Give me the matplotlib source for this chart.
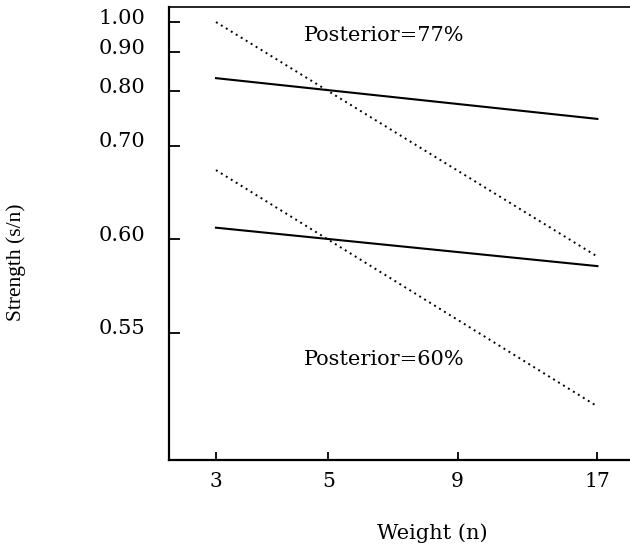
import numpy as np
import matplotlib
matplotlib.use("Agg")
from matplotlib import pyplot as plt
from matplotlib.transforms import ScaledTranslation

# weight (n) and strength (s/n) at the two ends of each line
weight = [3, 17]
bayes_77 = [1.00, 0.588]
bayes_60 = [0.667, 0.529]
judged_77 = [0.830, 0.744]
judged_60 = [0.609, 0.582]

x_ticks = [3, 5, 9, 17]
y_ticks = [1.00, 0.90, 0.80, 0.70, 0.60, 0.55]
y_tick_labels = ["1.00", "0.90", "0.80", "0.70", "0.60", "0.55"]


def forward(s):
    return np.log(np.clip(2 * np.asarray(s) - 1, 1e-9, None))


def inverse(f):
    return (np.exp(f) + 1) / 2


fig = plt.figure(figsize=(6.3, 5.46), dpi=100)
ax = fig.add_axes([169 / 630, 86 / 546, 526 / 630, 453 / 546])

ax.set_xscale("log")
ax.set_yscale("function", functions=(forward, inverse))

ax.plot(weight, bayes_77, color="black", linestyle=(0, (1, 2)), linewidth=1.4)
ax.plot(weight, bayes_60, color="black", linestyle=(0, (1, 2)), linewidth=1.4)
ax.plot(weight, judged_77, color="black", linewidth=1.5)
ax.plot(weight, judged_60, color="black", linewidth=1.5)

ax.set_xlim(2.423, 26.5)
ax.set_ylim(0.5195, 1.059)

ax.set_xticks(x_ticks)
ax.set_xticklabels([str(v) for v in x_ticks])
ax.xaxis.set_minor_locator(matplotlib.ticker.NullLocator())
ax.set_yticks(y_ticks)
ax.set_yticklabels(y_tick_labels)
ax.yaxis.set_minor_locator(matplotlib.ticker.NullLocator())

ax.tick_params(axis="x", direction="in", length=6, width=1.3, pad=8.5,
               labelsize=14.5, labelfontfamily="DejaVu Serif")
ax.tick_params(axis="y", direction="in", length=8, width=1.3, pad=17,
               labelsize=15, labelfontfamily="DejaVu Serif")

ax.spines["right"].set_visible(False)
for side in ["left", "bottom"]:
    ax.spines[side].set_linewidth(1.6)
ax.spines["top"].set_linewidth(1.2)

ax.text(6.44, 0.954, "Posterior=77%", ha="center", va="center",
        fontsize=15, family="DejaVu Serif")
ax.text(6.44, 0.541, "Posterior=60%", ha="center", va="center",
        fontsize=15, family="DejaVu Serif")

fig.text(432 / 630, 1 - 533 / 546, "Weight (n)", ha="center", va="center",
         fontsize=15, family="DejaVu Serif")
fig.text(16 / 630, 1 - 262 / 546, "Strength (s/n)", ha="center", va="center",
         rotation=90, fontsize=15.5, family="Liberation Serif")

# labels sit a little above their ticks in the original
shift = ScaledTranslation(0, 0.06, fig.dpi_scale_trans)
for label in ax.get_yticklabels():
    label.set_transform(label.get_transform() + shift)

fig.savefig("out.png", dpi=100)
